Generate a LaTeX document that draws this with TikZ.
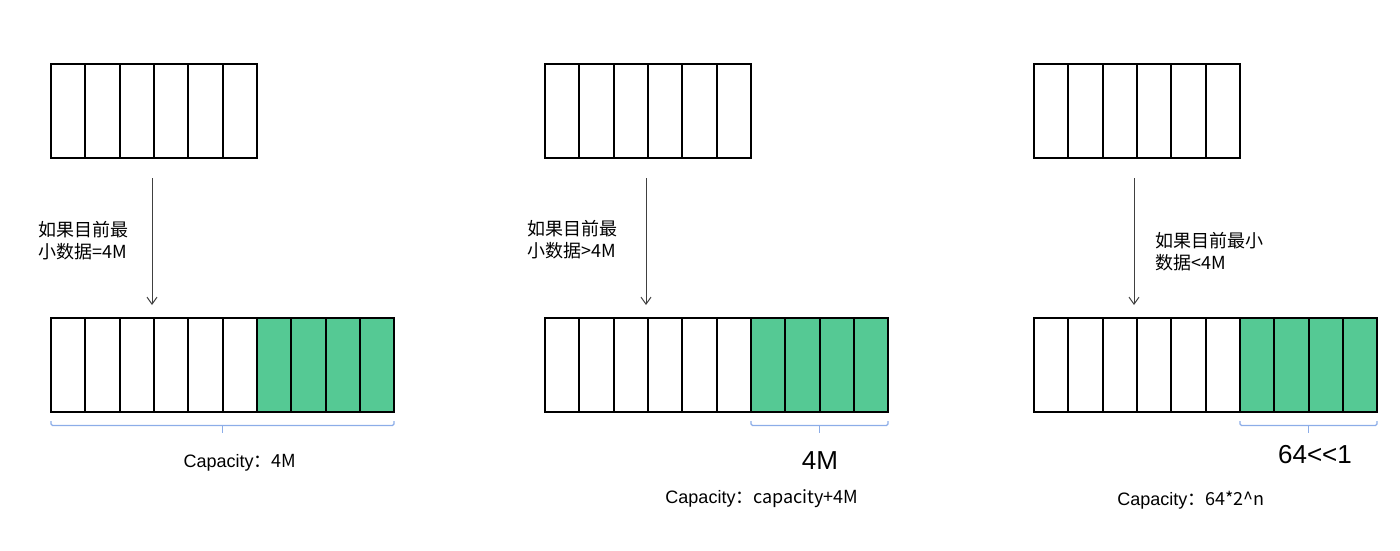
\documentclass[tikz,border=0pt]{standalone}
\usepackage{fontspec}
\setmainfont{Liberation Sans}
\newfontfamily\cjk{Noto Sans CJK SC}
\usetikzlibrary{arrows.meta}
\definecolor{cellgreen}{HTML}{55C994}
\definecolor{bracecol}{HTML}{8CADE8}
\definecolor{arrowcol}{HTML}{404040}
\tikzset{
  cell/.style={draw=black, line width=2pt, minimum width=34.3pt, minimum height=94pt, inner sep=0pt, outer sep=0pt, anchor=north west},
  gcell/.style={cell, fill=cellgreen},
  arr/.style={draw=arrowcol, line width=1pt, -{Straight Barb[length=7pt,width=10pt]}},
  brace/.style={draw=bracecol, line width=1.2pt, rounded corners=1.5pt},
  lbl/.style={align=left, anchor=west, inner sep=0pt, font=\fontsize{18pt}{22pt}\selectfont},
  captext/.style={inner sep=0pt, font=\fontsize{18pt}{22pt}\selectfont},
  bigtext/.style={inner sep=0pt, font=\fontsize{26pt}{30pt}\selectfont}
}
\begin{document}
\begin{tikzpicture}[x=1pt,y=-1pt]
\useasboundingbox (0,0) rectangle (1400,550);
% ---------- panel 1 ----------
\foreach \i in {0,...,5} \node[cell] (a1t\i) at (51+\i*34.33,64) {};
\foreach \i in {0,...,5} \node[cell] (a1b\i) at (51+\i*34.33,318) {};
\foreach \i in {6,...,9} \node[gcell] (a1b\i) at (51+\i*34.33,318) {};
\coordinate (s1) at (152,178);
\coordinate (e1) at (152,305);
\draw[arr] (s1) -- (e1);
\node[lbl] (l1) at (38,241) {\cjk{如果目前最}\\\cjk{小数据}=4M};
\coordinate (b1l) at (51,421);
\coordinate (b1r) at (394,421);
\draw[brace] (b1l) -- ++(0,4.5) -| (b1r);
\draw[draw=bracecol, line width=1.2pt] (222.5,425.5) -- (222.5,433);
\node[captext] (c1) at (240,463) {Capacity\cjk{：}4M};
% ---------- panel 2 ----------
\foreach \i in {0,...,5} \node[cell] (a2t\i) at (545+\i*34.33,64) {};
\foreach \i in {0,...,5} \node[cell] (a2b\i) at (545+\i*34.33,318) {};
\foreach \i in {6,...,9} \node[gcell] (a2b\i) at (545+\i*34.33,318) {};
\coordinate (s2) at (646,178);
\coordinate (e2) at (646,305);
\draw[arr] (s2) -- (e2);
\node[lbl] (l2) at (527,240) {\cjk{如果目前最}\\\cjk{小数据}>4M};
\coordinate (b2l) at (751,421);
\coordinate (b2r) at (888,421);
\draw[brace] (b2l) -- ++(0,4.5) -| (b2r);
\draw[draw=bracecol, line width=1.2pt] (819.5,425.5) -- (819.5,433);
\node[bigtext] (n2) at (820,461) {4M};
\node[captext] (c2) at (762,499) {Capacity\cjk{：}capacity+4M};
% ---------- panel 3 ----------
\foreach \i in {0,...,5} \node[cell] (a3t\i) at (1034+\i*34.33,64) {};
\foreach \i in {0,...,5} \node[cell] (a3b\i) at (1034+\i*34.33,318) {};
\foreach \i in {6,...,9} \node[gcell] (a3b\i) at (1034+\i*34.33,318) {};
\coordinate (s3) at (1134,178);
\coordinate (e3) at (1134,305);
\draw[arr] (s3) -- (e3);
\node[lbl] (l3) at (1155,252) {\cjk{如果目前最小}\\\cjk{数据}<4M};
\coordinate (b3l) at (1240,421);
\coordinate (b3r) at (1377,421);
\draw[brace] (b3l) -- ++(0,4.5) -| (b3r);
\draw[draw=bracecol, line width=1.2pt] (1308.5,425.5) -- (1308.5,433);
\node[bigtext] (n3) at (1315,455) {64<\kern0pt<1};
\node[captext] (c3) at (1191,500) {Capacity\cjk{：}64*2\string^n};
\end{tikzpicture}
\end{document}
